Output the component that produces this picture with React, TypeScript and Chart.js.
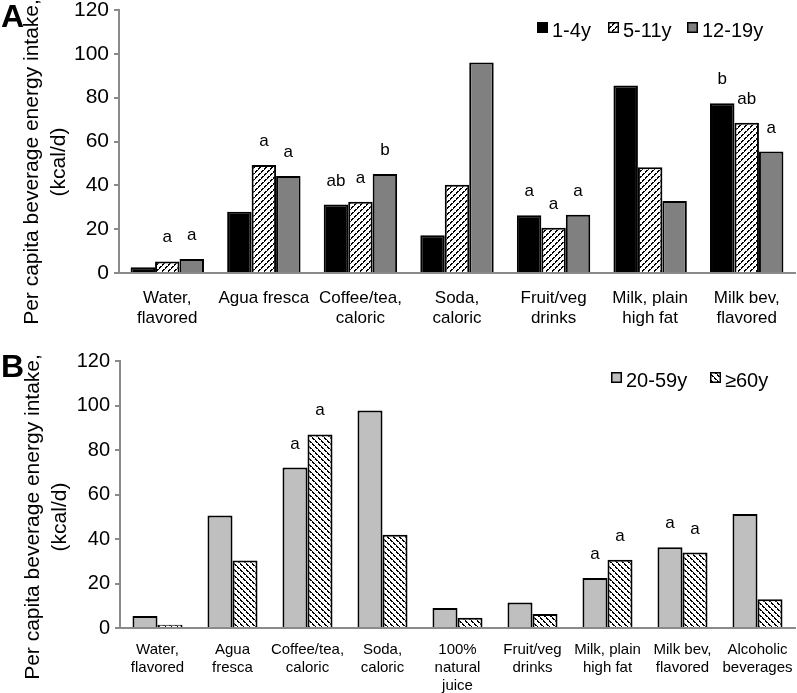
import React, { useEffect, useRef } from "react";
import { Chart, registerables } from "chart.js";
Chart.register(...registerables);

const FONT = "'Liberation Sans', Arial, Helvetica, sans-serif";
const AXIS = "#8a8a8a";

// ---------- Panel A data ----------
const categoriesA: (string | string[])[] = [
  ["Water,", "flavored"],
  "Agua fresca",
  ["Coffee/tea,", "caloric"],
  ["Soda,", "caloric"],
  ["Fruit/veg", "drinks"],
  ["Milk, plain", "high fat"],
  ["Milk bev,", "flavored"],
];
const age1to4 = [2.6, 28.0, 31.2, 17.2, 26.3, 85.5, 77.4];
const age5to11 = [5.3, 49.3, 32.5, 40.3, 20.7, 48.2, 68.6];
const age12to19 = [6.4, 44.3, 45.2, 96.0, 26.6, 32.9, 55.4];
const sig1to4 = ["", "", "ab", "", "a", "", "b"];
const sig5to11 = ["a", "a", "a", "", "a", "", "ab"];
const sig12to19 = ["a", "a", "b", "", "a", "", "a"];
const seriesNamesA = ["1-4y", "5-11y", "12-19y"];

// ---------- Panel B data ----------
const categoriesB: (string | string[])[] = [
  ["Water,", "flavored"],
  ["Agua", "fresca"],
  ["Coffee/tea,", "caloric"],
  ["Soda,", "caloric"],
  ["100%", "natural", "juice"],
  ["Fruit/veg", "drinks"],
  ["Milk, plain", "high fat"],
  ["Milk bev,", "flavored"],
  ["Alcoholic", "beverages"],
];
const age20to59 = [5.4, 50.6, 72.1, 97.7, 9.0, 11.5, 22.5, 36.3, 51.2];
const age60plus = [1.5, 30.3, 87.0, 41.9, 4.6, 6.3, 30.7, 33.9, 12.9];
const sig20to59 = ["", "", "a", "", "", "", "a", "a", ""];
const sig60plus = ["", "", "a", "", "", "", "a", "a", ""];
const seriesNamesB = ["20-59y", "\u226560y"];

const yTitleLine1 = "Per capita beverage energy intake,";
const yTitleLine2 = "(kcal/d)";
const yMin = 0;
const yMax = 120;
const yStep = 20;

function makePattern(dir: "/" | "\\"): CanvasPattern | string {
  const n = 6;
  const c = document.createElement("canvas");
  c.width = n;
  c.height = n;
  const ctx = c.getContext("2d");
  if (!ctx) return "#888";
  ctx.fillStyle = "#fff";
  ctx.fillRect(0, 0, n, n);
  ctx.fillStyle = "#000";
  for (let x = 0; x < n; x++) {
    for (let y = 0; y < n; y++) {
      const d = dir === "\\" ? (((x - y) % n) + n) % n : (x + y) % n;
      const s = dir === "\\" ? (x + y) % n : (((x - y) % n) + n) % n;
      // 2px diagonal stripe with a small break once per tile
      if (d < 2 && !(d === 0 && s === 4)) ctx.fillRect(x, y, 1, 1);
    }
  }
  return ctx.createPattern(c, "repeat") || "#888";
}

const sigPlugin = {
  id: "sig",
  afterDatasetsDraw(chart: any, _args: any, opts: any) {
    const ctx = chart.ctx;
    ctx.save();
    ctx.font = `17px ${FONT}`;
    ctx.fillStyle = "#000";
    ctx.textAlign = "center";
    ctx.textBaseline = "alphabetic";
    (opts.labels || []).forEach((arr: string[], i: number) => {
      const meta = chart.getDatasetMeta(i);
      arr.forEach((t, j) => {
        if (!t) return;
        const el = meta.data[j];
        if (!el) return;
        ctx.fillText(t, el.x, el.y - opts.offset);
      });
    });
    ctx.restore();
  },
};

const decorPlugin = {
  id: "decor",
  afterDraw(chart: any, _args: any, opts: any) {
    const ctx = chart.ctx;
    ctx.save();
    ctx.fillStyle = "#000";
    // panel letter
    ctx.font = `bold 32px ${FONT}`;
    ctx.textAlign = "left";
    ctx.textBaseline = "alphabetic";
    ctx.fillText(opts.letter, opts.letterX, opts.letterY);
    // y-axis title
    ctx.font = `21px ${FONT}`;
    ctx.textAlign = "center";
    ctx.save();
    ctx.translate(opts.t1x, opts.tcy);
    ctx.rotate(-Math.PI / 2);
    ctx.fillText(yTitleLine1, 0, 0);
    ctx.restore();
    ctx.save();
    ctx.translate(opts.t2x, opts.tcy);
    ctx.rotate(-Math.PI / 2);
    ctx.fillText(yTitleLine2, 0, 0);
    ctx.restore();
    // legend
    ctx.font = `20px ${FONT}`;
    ctx.textAlign = "left";
    chart.data.datasets.forEach((ds: any, i: number) => {
      const x = opts.legendX[i];
      const y = opts.legendY;
      ctx.fillStyle = ds.backgroundColor;
      ctx.fillRect(x, y, 11, 11);
      ctx.strokeStyle = "#000";
      ctx.lineWidth = 1.5;
      ctx.strokeRect(x + 0.75, y + 0.75, 9.5, 9.5);
      ctx.fillStyle = "#000";
      ctx.fillText(ds.label, x + 15, y + 14.5);
    });
    ctx.restore();
  },
};

function buildOptions(p: {
  padTop: number;
  yWidth: number;
  xHeight: number;
  xFont: number;
  xPad: number;
  xLineHeight: number;
  yFont: number;
  catPct: number;
  sig: string[][];
  decor: any;
}) {
  return {
    responsive: false,
    maintainAspectRatio: false,
    animation: false as const,
    layout: { padding: { top: p.padTop, right: 2, left: 0, bottom: 0 } },
    datasets: { bar: { categoryPercentage: p.catPct, barPercentage: 1 } },
    plugins: {
      legend: { display: false },
      tooltip: { enabled: false },
      sig: { labels: p.sig, offset: 19 },
      decor: p.decor,
    },
    scales: {
      x: {
        grid: { display: false },
        border: { display: true, color: AXIS, width: 2 },
        ticks: {
          font: { family: FONT, size: p.xFont, lineHeight: p.xLineHeight },
          color: "#000",
          padding: p.xPad,
          maxRotation: 0,
          minRotation: 0,
          autoSkip: false,
        },
        afterFit: (s: any) => {
          s.height = p.xHeight;
          s.paddingLeft = 0;
          s.paddingRight = 0;
        },
      },
      y: {
        min: yMin,
        max: yMax,
        ticks: {
          stepSize: yStep,
          font: { family: FONT, size: p.yFont },
          color: "#000",
          padding: 5,
        },
        grid: {
          drawOnChartArea: false,
          drawTicks: true,
          tickLength: 5,
          color: AXIS,
          lineWidth: 2,
        },
        border: { display: true, color: AXIS, width: 2 },
        afterFit: (s: any) => {
          s.width = p.yWidth;
          s.paddingTop = 0;
          s.paddingBottom = 0;
        },
      },
    },
  };
}

export default function App() {
  const refA = useRef<HTMLCanvasElement>(null);
  const refB = useRef<HTMLCanvasElement>(null);

  useEffect(() => {
    if (!refA.current || !refB.current) return;
    const patA = makePattern("/");
    const patB = makePattern("\\");

    const chartA = new Chart(refA.current, {
      type: "bar",
      data: {
        labels: categoriesA as any,
        datasets: [
          { label: seriesNamesA[0], data: age1to4, backgroundColor: "#000000", borderColor: "#000", borderWidth: 2 },
          { label: seriesNamesA[1], data: age5to11, backgroundColor: patA as any, borderColor: "#000", borderWidth: 2 },
          { label: seriesNamesA[2], data: age12to19, backgroundColor: "#808080", borderColor: "#000", borderWidth: 2 },
        ],
      },
      options: buildOptions({
        padTop: 10,
        yWidth: 119,
        xHeight: 57,
        xFont: 17,
        xPad: 8,
        xLineHeight: 1.15,
        yFont: 21,
        catPct: 0.76,
        sig: [sig1to4, sig5to11, sig12to19],
        decor: {
          letter: "A",
          letterX: 1,
          letterY: 27,
          t1x: 38,
          t2x: 65,
          tcy: 162,
          legendX: [537, 608, 687],
          legendY: 22,
        },
      }) as any,
      plugins: [sigPlugin, decorPlugin],
    });

    const chartB = new Chart(refB.current, {
      type: "bar",
      data: {
        labels: categoriesB as any,
        datasets: [
          { label: seriesNamesB[0], data: age20to59, backgroundColor: "#bfbfbf", borderColor: "#000", borderWidth: 2 },
          { label: seriesNamesB[1], data: age60plus, backgroundColor: patB as any, borderColor: "#000", borderWidth: 2 },
        ],
      },
      options: buildOptions({
        padTop: 31,
        yWidth: 120,
        xHeight: 65,
        xFont: 15,
        xPad: 5,
        xLineHeight: 1.2,
        yFont: 20,
        catPct: 0.667,
        sig: [sig20to59, sig60plus],
        decor: {
          letter: "B",
          letterX: 1,
          letterY: 47,
          t1x: 39,
          t2x: 66,
          tcy: 187,
          legendX: [611, 710],
          legendY: 42,
        },
      }) as any,
      plugins: [sigPlugin, decorPlugin],
    });

    return () => {
      chartA.destroy();
      chartB.destroy();
    };
  }, []);

  return (
    <div style={{ position: "absolute", left: 0, top: 0, width: 797, height: 693, background: "#fff" }}>
      <canvas ref={refA} width={797} height={330} style={{ position: "absolute", left: 0, top: 0 }} />
      <canvas ref={refB} width={797} height={363} style={{ position: "absolute", left: 0, top: 330 }} />
    </div>
  );
}
